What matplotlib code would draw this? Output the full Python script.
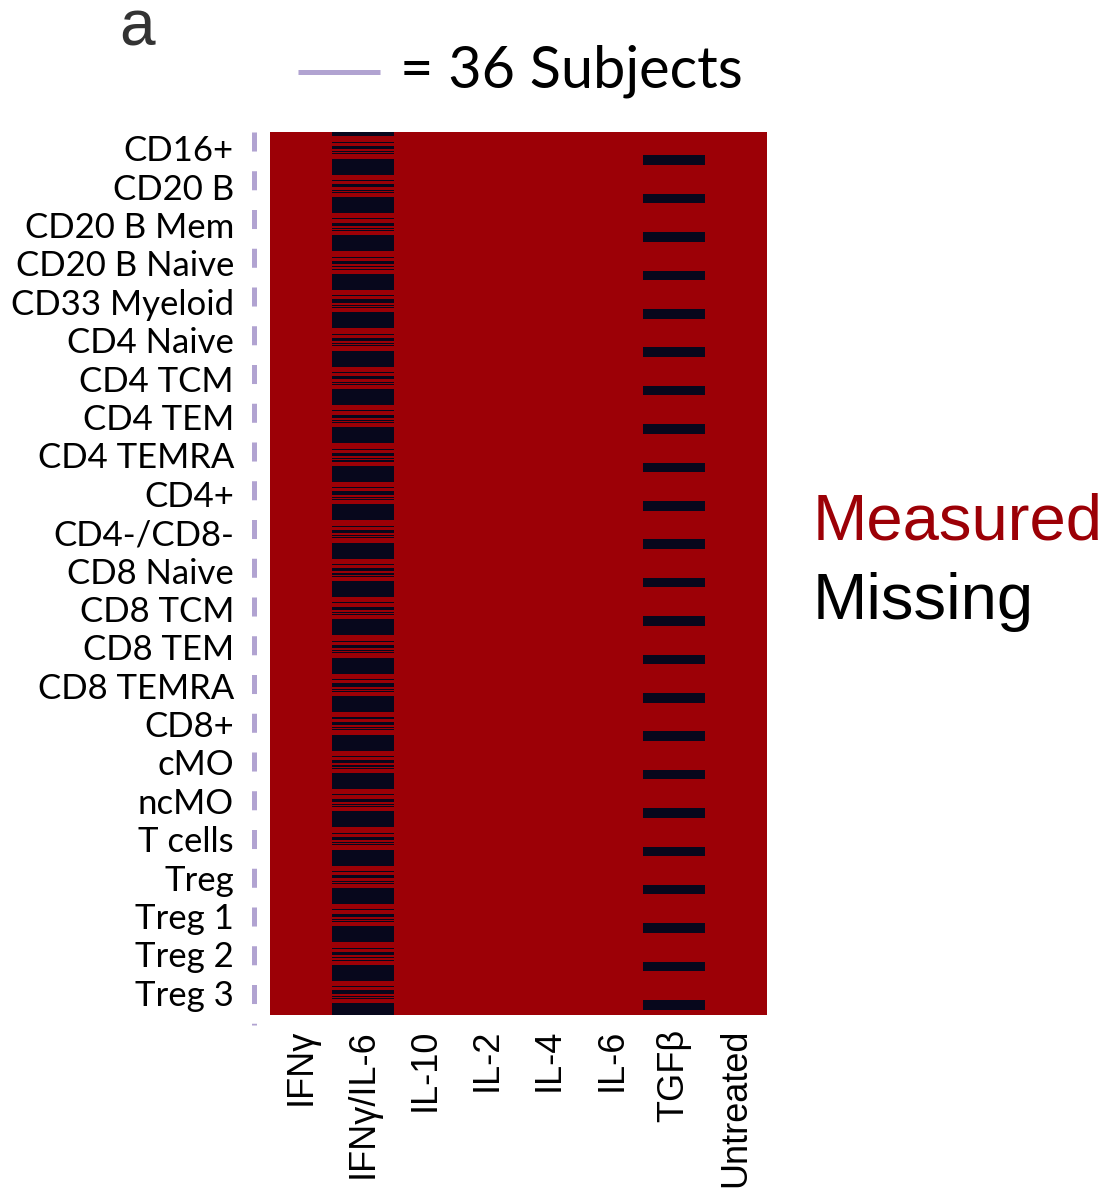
import numpy as np
import matplotlib
matplotlib.use("Agg")
import matplotlib.pyplot as plt
from matplotlib.colors import ListedColormap
from matplotlib.lines import Line2D
from matplotlib.transforms import blended_transform_factory

plt.rcParams["lines.scale_dashes"] = False

# cell types (rows, each block holds every subject) and treatments (columns)
cell_types = ["CD16+", "CD20 B", "CD20 B Mem", "CD20 B Naive", "CD33 Myeloid",
              "CD4 Naive", "CD4 TCM", "CD4 TEM", "CD4 TEMRA", "CD4+", "CD4-/CD8-",
              "CD8 Naive", "CD8 TCM", "CD8 TEM", "CD8 TEMRA", "CD8+", "cMO", "ncMO",
              "T cells", "Treg", "Treg 1", "Treg 2", "Treg 3"]
treatments = ["IFNγ", "IFNγ/IL-6", "IL-10", "IL-2", "IL-4", "IL-6", "TGFβ", "Untreated"]
n_subjects = 36

# subjects (0-based, within each cell-type block) without a sample, per treatment
missing_subjects = {
    "IFNγ/IL-6": [0, 1, 2, 3, 9, 13, 14, 15, 18, 20,
                  25, 26, 27, 28, 29, 30, 31, 32, 33, 34, 35],
    "TGFβ": [22, 23, 24, 25, 26, 27, 28, 29, 30],
}

RED = "#9c0006"
NAVY = "#07071c"
LILAC = "#b1a3d1"

# 1 = missing, 0 = measured
mat = np.zeros((len(cell_types) * n_subjects, len(treatments)))
for trt, subs in missing_subjects.items():
    j = treatments.index(trt)
    for b in range(len(cell_types)):
        for s in subs:
            mat[b * n_subjects + s, j] = 1

W, H = 1109, 1196
fig = plt.figure(figsize=(W / 100, H / 100), dpi=100)
ax = fig.add_axes([270 / W, 1 - 1015 / H, 497 / W, 883 / H])

ax.imshow(mat, aspect="auto", cmap=ListedColormap([RED, NAVY]), vmin=0, vmax=1,
          interpolation="nearest")

ax.set_xticks(range(len(treatments)))
ax.set_xticklabels(treatments, rotation=90, va="top", ha="center",
                   fontsize=26, family="Liberation Sans")
ax.set_yticks([b * n_subjects + (n_subjects - 1) / 2 for b in range(len(cell_types))])
ax.set_yticklabels(cell_types, fontsize=25, family="Lato", va="center")
ax.tick_params(axis="x", length=0, pad=10)
ax.tick_params(axis="y", length=0, pad=26)
for sp in ax.spines.values():
    sp.set_visible(False)

# dashed guide on the left: one dash per block of subjects
trans = blended_transform_factory(ax.transAxes, ax.transData)
ax.add_line(Line2D([-0.033, -0.033], [-0.5, len(mat) + 9], transform=trans,
                   color=LILAC, lw=3.6, dashes=(13.7, 14.2), solid_capstyle="butt",
                   dash_capstyle="butt", clip_on=False))

# key for the dashes
fig.add_artist(Line2D([298 / W, 380 / W], [1 - 72 / H] * 2, transform=fig.transFigure,
                      color=LILAC, lw=3.6, solid_capstyle="butt"))
fig.text(400 / W, 1 - 87 / H, f"= {n_subjects} Subjects", fontsize=41.5,
         family="Lato", va="baseline", ha="left")

fig.text(813 / W, 1 - 540 / H, "Measured", fontsize=47, color=RED,
         family="Liberation Sans", va="baseline")
fig.text(813 / W, 1 - 619 / H, "Missing", fontsize=47, color="black",
         family="Liberation Sans", va="baseline")

fig.text(119 / W, 1 - 45 / H, "a", fontsize=46, color="#333333",
         family="Liberation Sans", va="baseline")

fig.savefig("out.png", dpi=100)
